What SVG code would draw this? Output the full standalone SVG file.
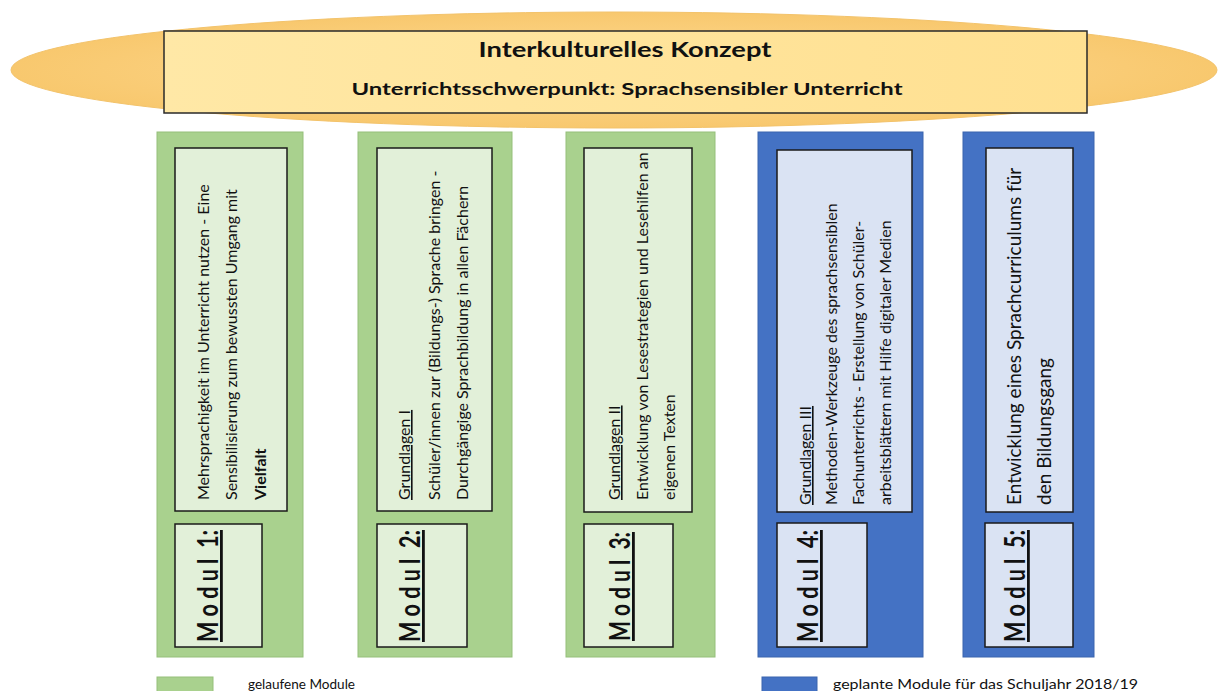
<svg xmlns="http://www.w3.org/2000/svg" width="1219" height="691" viewBox="0 0 1219 691">
<defs>
<radialGradient id="eg" cx="50%" cy="50%" r="50%">
<stop offset="0" stop-color="#FFDC96"/>
<stop offset="1" stop-color="#F8C86E"/>
</radialGradient>
<linearGradient id="rg" x1="0" y1="0" x2="1" y2="0">
<stop offset="0" stop-color="#FFE8A6"/>
<stop offset="1" stop-color="#FFE091"/>
</linearGradient>
</defs>
<style>
.t{font-family:Lato,"Open Sans","Liberation Sans",sans-serif;fill:#111}
.body{font-size:16px}
.big{font-size:19px}
.mod{font-size:28px;font-weight:bold;text-decoration:underline}
.ul{text-decoration:underline}
.g{fill:#A9D18E;stroke:#95BF7A;stroke-width:1}
.b{fill:#4472C4;stroke:#3A64AE;stroke-width:1}
.gi{fill:#E2F0D9;stroke:#1a1a1a;stroke-width:1.5}
.bi{fill:#DAE3F3;stroke:#1a1a1a;stroke-width:1.5}
</style>
<rect width="1219" height="691" fill="#ffffff"/>
<g id="header">
<ellipse cx="614" cy="70" rx="603" ry="58" fill="url(#eg)" stroke="#F3C36B" stroke-width="1"/>
<rect x="164" y="31" width="923" height="82" fill="url(#rg)" stroke="#2a2a2a" stroke-width="1.5"/>
<text class="t" x="625" y="57" text-anchor="middle" font-size="20" font-weight="bold" textLength="293" lengthAdjust="spacingAndGlyphs">Interkulturelles Konzept</text>
<text class="t" x="627" y="95" text-anchor="middle" font-size="17" font-weight="bold" textLength="551" lengthAdjust="spacingAndGlyphs">Unterrichtsschwerpunkt: Sprachsensibler Unterricht</text>
</g>
<g id="modul1">
<rect class="g" x="157" y="132" width="146" height="525"/>
<rect class="gi" x="175" y="148" width="112" height="363"/>
<rect class="gi" x="175" y="524" width="87" height="123"/>
<text class="t body" transform="translate(209,500) rotate(-90)">Mehrsprachigkeit im Unterricht nutzen - Eine</text>
<text class="t body" transform="translate(237,500) rotate(-90)">Sensibilisierung zum bewussten Umgang mit</text>
<text class="t body" transform="translate(266,500) rotate(-90)" font-weight="bold">Vielfalt</text>
<text class="t mod" transform="translate(218,642) rotate(-90)" textLength="112" lengthAdjust="spacingAndGlyphs">M o d u l &#160;1:</text>
</g>
<g id="modul2">
<rect class="g" x="358" y="132" width="154" height="525"/>
<rect class="gi" x="377" y="148" width="115" height="363"/>
<rect class="gi" x="377" y="524" width="90" height="123"/>
<text class="t body ul" transform="translate(410,500) rotate(-90)">Grundlagen I</text>
<text class="t body" transform="translate(440,500) rotate(-90)">Schüler/innen zur (Bildungs-) Sprache bringen -</text>
<text class="t body" transform="translate(468,500) rotate(-90)">Durchgängige Sprachbildung in allen Fächern</text>
<text class="t mod" transform="translate(420,642) rotate(-90)" textLength="112" lengthAdjust="spacingAndGlyphs">M o d u l &#160;2:</text>
</g>
<g id="modul3">
<rect class="g" x="566" y="132" width="149" height="525"/>
<rect class="gi" x="584" y="148" width="108" height="364"/>
<rect class="gi" x="584" y="524" width="89" height="123"/>
<text class="t body ul" transform="translate(620,500) rotate(-90)">Grundlagen II</text>
<text class="t body" transform="translate(648,500) rotate(-90)">Entwicklung von Lesestrategien und Lesehilfen an</text>
<text class="t body" transform="translate(675,500) rotate(-90)">eigenen Texten</text>
<text class="t mod" transform="translate(630,641) rotate(-90)" textLength="109" lengthAdjust="spacingAndGlyphs">M o d u l &#160;3:</text>
</g>
<g id="modul4">
<rect class="b" x="758" y="132" width="165" height="525"/>
<rect class="bi" x="777" y="150" width="135" height="362"/>
<rect class="bi" x="777" y="523" width="90" height="124"/>
<text class="t body ul" transform="translate(811,505) rotate(-90)">Grundlagen III</text>
<text class="t body" transform="translate(837,505) rotate(-90)">Methoden-Werkzeuge des sprachsensiblen</text>
<text class="t body" transform="translate(864,505) rotate(-90)">Fachunterrichts - Erstellung von Schüler-</text>
<text class="t body" transform="translate(891,505) rotate(-90)">arbeitsblättern mit Hilfe digitaler Medien</text>
<text class="t mod" transform="translate(818,642) rotate(-90)" textLength="112" lengthAdjust="spacingAndGlyphs">M o d u l &#160;4:</text>
</g>
<g id="modul5">
<rect class="b" x="963" y="132" width="131" height="525"/>
<rect class="bi" x="986" y="148" width="87" height="364"/>
<rect class="bi" x="985" y="523" width="88" height="124"/>
<text class="t big" transform="translate(1021,505) rotate(-90)">Entwicklung eines Sprachcurriculums für</text>
<text class="t big" transform="translate(1051,505) rotate(-90)">den Bildungsgang</text>
<text class="t mod" transform="translate(1025,642) rotate(-90)" textLength="112" lengthAdjust="spacingAndGlyphs">M o d u l &#160;5:</text>
</g>
<g id="legend">
<rect class="g" x="157" y="677" width="56" height="20"/>
<text class="t" x="248" y="689" font-size="14" fill="#333" textLength="107" lengthAdjust="spacingAndGlyphs">gelaufene Module</text>
<rect class="b" x="762" y="677" width="55" height="20"/>
<text class="t" x="833" y="689" font-size="14" fill="#333" textLength="305" lengthAdjust="spacingAndGlyphs">geplante Module für das Schuljahr 2018/19</text>
</g>
<g id="connectors"></g>
</svg>
